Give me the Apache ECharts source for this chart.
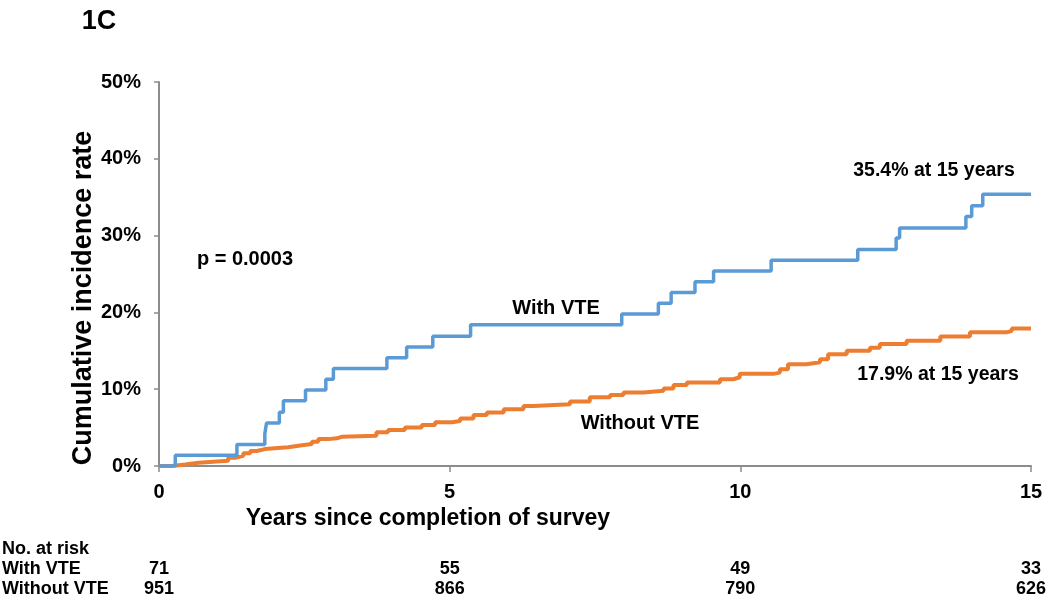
<!DOCTYPE html>
<html>
<head>
<meta charset="utf-8">
<script src="https://cdn.jsdelivr.net/npm/echarts@6/dist/echarts.min.js"></script>
<style>html,body{margin:0;padding:0;background:#fff}#c{width:1050px;height:602px}</style>
</head>
<body>
<div id="c"></div>
<script>
// Cumulative incidence (%), step points: [year, value from that year on]
const withVTE = [
  [0,0],[0.28,1.4],[1.34,2.8],[1.82,4.2],[1.85,5.6],[2.07,7.0],[2.14,8.5],[2.52,9.9],
  [2.87,11.3],[3.0,12.7],[3.92,14.1],[4.26,15.5],[4.71,16.9],[5.36,18.4],[7.96,19.8],
  [8.59,21.2],[8.81,22.6],[9.22,24.0],[9.54,25.4],[10.53,26.8],[12.02,28.2],[12.68,29.7],
  [12.74,31.0],[13.88,32.5],[13.98,33.9],[14.17,35.4],[15,35.4]
];
const withoutVTE = [
  [0,0],[0.22,0.2],[0.45,0.43],[0.68,0.68],[1.19,1.08],[1.31,1.34],[1.45,1.65],[1.57,1.96],
  [1.68,2.2],[1.82,2.44],[2.22,2.7],[2.46,2.87],[2.63,3.17],[2.74,3.5],[2.91,3.6],[3.06,3.8],
  [3.14,3.95],[3.74,4.4],[3.94,4.7],[4.23,5.0],[4.52,5.35],[4.75,5.7],[5.04,5.87],[5.18,6.2],
  [5.41,6.65],[5.64,6.95],[5.93,7.4],[6.27,7.8],[6.44,8.04],[7.07,8.4],[7.41,8.95],[7.76,9.26],
  [7.99,9.56],[8.33,9.8],[8.68,10.1],[8.85,10.56],[9.08,10.86],[9.65,11.3],[9.88,11.56],
  [9.99,12.0],[10.57,12.16],[10.68,12.6],[10.82,13.26],[11.14,13.5],[11.37,13.9],[11.51,14.56],
  [11.83,15.0],[12.23,15.4],[12.40,15.87],[12.86,16.3],[13.44,16.85],[13.95,17.4],[14.58,17.6],
  [14.67,17.9],[15,17.9]
];
const riskYears = [0, 5, 10, 15];
const riskWithVTE = [71, 55, 49, 33];
const riskWithoutVTE = [951, 866, 790, 626];
const yTicks = [0, 10, 20, 30, 40, 50];

const FONT = '"Liberation Sans", Arial, sans-serif';
const AXIS = '#8c8c8c';
const chart = echarts.init(document.getElementById('c'), null, {renderer: 'canvas'});

const option = {
  animation: false,
  backgroundColor: '#fff',
  grid: {left: 159, right: 19, top: 82, bottom: 136, containLabel: false},
  xAxis: {
    type: 'value', min: 0, max: 15, interval: 5,
    axisLine: {show: true, lineStyle: {color: AXIS, width: 2}},
    axisTick: {show: true, length: 6, lineStyle: {color: AXIS, width: 1.5}},
    splitLine: {show: false},
    axisLabel: {fontFamily: FONT, fontWeight: 'bold', fontSize: 20, color: '#000', margin: 16}
  },
  yAxis: {
    type: 'value', min: yTicks[0], max: yTicks[yTicks.length - 1], interval: 10,
    axisLine: {show: true, lineStyle: {color: AXIS, width: 2}},
    axisTick: {show: true, length: 5, lineStyle: {color: AXIS, width: 1.5}},
    splitLine: {show: false},
    axisLabel: {fontFamily: FONT, fontWeight: 'bold', fontSize: 20, color: '#000', margin: 18,
      formatter: v => v + '%'}
  },
  series: [
    {name: 'With VTE', type: 'line', step: 'end', data: withVTE, showSymbol: false,
     lineStyle: {color: '#5b9bd5', width: 3.5}, itemStyle: {color: '#5b9bd5'}, z: 3},
    {name: 'Without VTE', type: 'line', step: 'end', data: withoutVTE, showSymbol: false,
     lineStyle: {color: '#ed7d31', width: 4}, itemStyle: {color: '#ed7d31'}, z: 2}
  ]
};
chart.setOption(option);

function txt(text, x, y, size, align, extra) {
  return Object.assign({
    type: 'text', x: x, y: y,
    style: {text: text, fontFamily: FONT, fontWeight: 'bold', fontSize: size, fill: '#000',
      align: align || 'center', verticalAlign: 'middle'}
  }, extra || {});
}

const g = [
  txt('1C', 99, 22, 27),
  txt('Cumulative incidence rate', 84, 298, 27, 'center', {rotation: Math.PI / 2}),
  txt('Years since completion of survey', 428, 519, 23),
  txt('p = 0.0003', 245, 259, 20),
  txt('With VTE', 556, 308, 20),
  txt('Without VTE', 640, 423, 20),
  txt('35.4% at 15 years', 934, 171, 19.5),
  txt('17.9% at 15 years', 938, 375, 19.5),
  txt('No. at risk', 2, 549, 18, 'left'),
  txt('With VTE', 2, 569, 18, 'left'),
  txt('Without VTE', 2, 589, 18, 'left')
];
riskYears.forEach((yr, i) => {
  const px = chart.convertToPixel({gridIndex: 0}, [yr, 0])[0];
  g.push(txt(String(riskWithVTE[i]), px, 569, 18));
  g.push(txt(String(riskWithoutVTE[i]), px, 589, 18));
});
chart.setOption({graphic: g});
</script>
</body>
</html>
